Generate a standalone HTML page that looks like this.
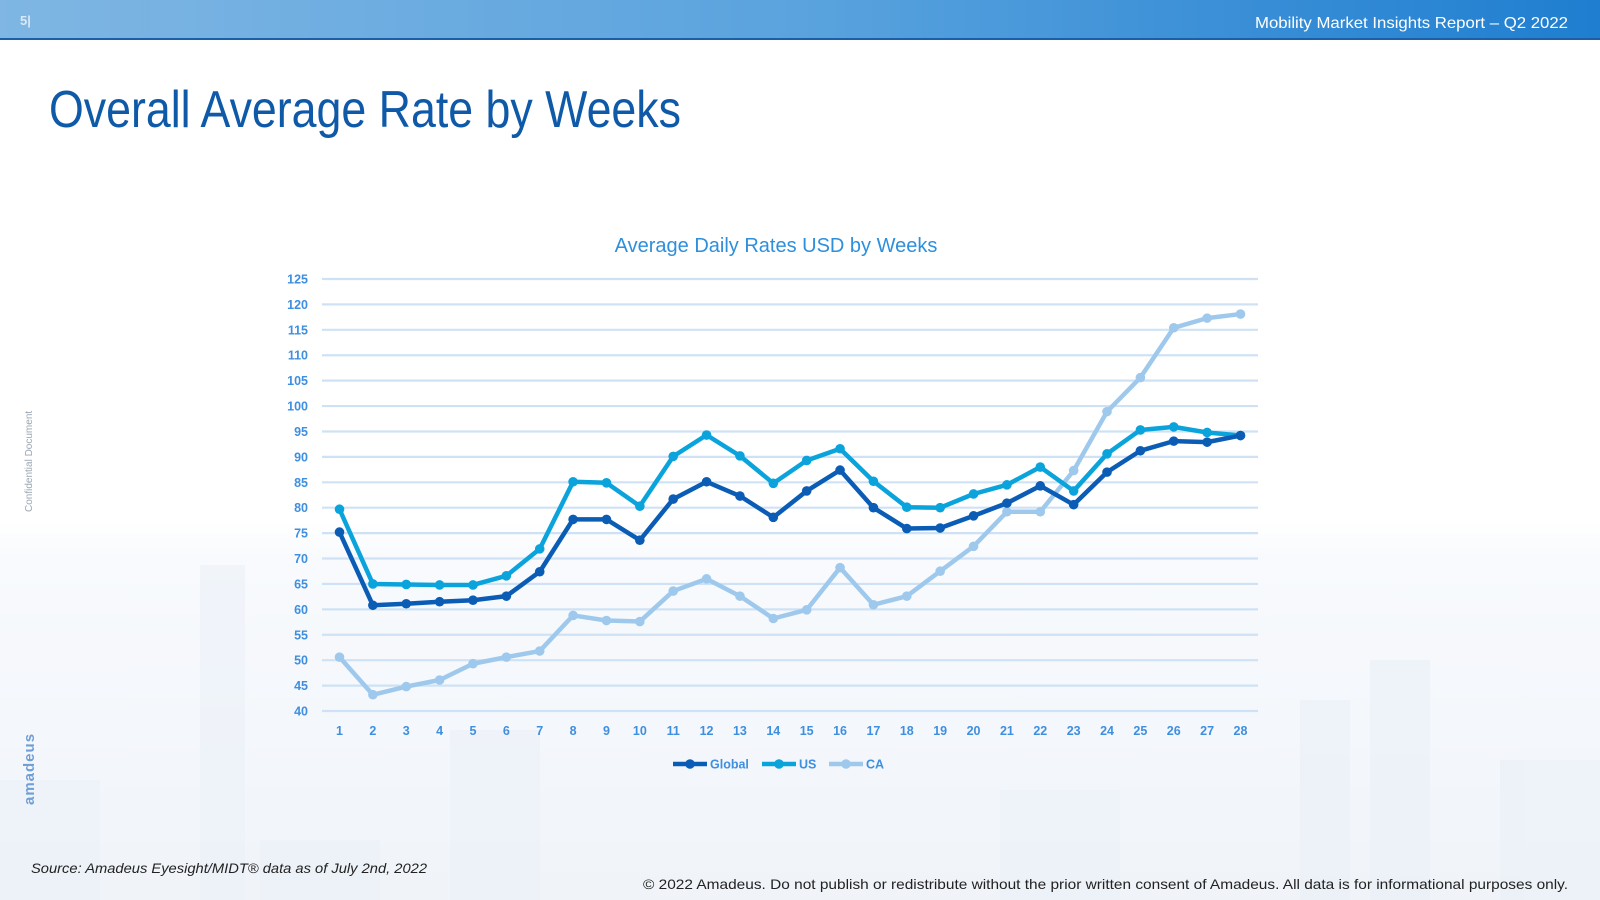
<!DOCTYPE html>
<html><head><meta charset="utf-8"><style>
html,body{margin:0;padding:0;width:1600px;height:900px;overflow:hidden;background:#fff;font-family:"Liberation Sans",sans-serif}
</style></head><body>
<svg id="chart" width="1600" height="900" viewBox="0 0 1600 900" xmlns="http://www.w3.org/2000/svg">
<defs>
<linearGradient id="hdr" x1="0" y1="0" x2="1" y2="0">
<stop offset="0" stop-color="#7fb6e3"/><stop offset="0.5" stop-color="#5aa3de"/><stop offset="1" stop-color="#1f7ed0"/>
</linearGradient>
<linearGradient id="bg" x1="0" y1="0" x2="0" y2="1">
<stop offset="0" stop-color="#ffffff"/><stop offset="0.58" stop-color="#ffffff"/><stop offset="0.62" stop-color="#f8fafd"/><stop offset="1" stop-color="#f0f4f9"/>
</linearGradient>
</defs>
<rect x="0" y="0" width="1600" height="900" fill="url(#bg)"/>
<g fill="#e9f0f8" opacity="0.5">
<rect x="200" y="565" width="45" height="335"/><rect x="450" y="730" width="90" height="170"/><rect x="0" y="780" width="100" height="120"/>
<rect x="1370" y="660" width="60" height="240"/><rect x="1300" y="700" width="50" height="200"/><rect x="1500" y="760" width="100" height="140"/>
<rect x="1000" y="790" width="120" height="110"/><rect x="260" y="840" width="120" height="60"/>
</g>
<rect x="0" y="0" width="1600" height="39" fill="url(#hdr)"/>
<rect x="0" y="38" width="1600" height="2" fill="#1a5fa8"/>
<text x="20" y="25" font-size="13" fill="#d8e9f8" font-weight="bold">5|</text>
<text x="1255" y="28" font-size="16" fill="#ffffff" textLength="313" lengthAdjust="spacingAndGlyphs">Mobility Market Insights Report – Q2 2022</text>
<text x="49" y="127" font-size="52" fill="#0f5aa8" textLength="632" lengthAdjust="spacingAndGlyphs">Overall Average Rate by Weeks</text>
<text x="776" y="252" font-size="20" fill="#2e8fdc" text-anchor="middle">Average Daily Rates USD by Weeks</text>
<text transform="translate(32,512) rotate(-90)" font-size="10" fill="#9aa6b2">Confidential Document</text>
<text transform="translate(34,805) rotate(-90)" font-size="15" fill="#6f9fd6" font-weight="bold" letter-spacing="1">amadeus</text>
<text x="31" y="873" font-size="14" font-style="italic" fill="#222" textLength="396" lengthAdjust="spacingAndGlyphs">Source: Amadeus Eyesight/MIDT® data as of July 2nd, 2022</text>
<text x="643" y="889" font-size="14" fill="#222" textLength="925" lengthAdjust="spacingAndGlyphs">© 2022 Amadeus. Do not publish or redistribute without the prior written consent of Amadeus. All data is for informational purposes only.</text>
<g id="grid"></g><g id="series"></g><g id="legend"></g>
</svg>
<script>
const weeks = [1,2,3,4,5,6,7,8,9,10,11,12,13,14,15,16,17,18,19,20,21,22,23,24,25,26,27,28];
const yTicks = [40,45,50,55,60,65,70,75,80,85,90,95,100,105,110,115,120,125];
const globalVals = [75.2,60.8,61.1,61.5,61.8,62.6,67.4,77.7,77.7,73.6,81.7,85.1,82.3,78.1,83.3,87.4,80.0,75.9,76.0,78.4,80.9,84.3,80.6,87.0,91.2,93.1,92.9,94.2];
const usVals = [79.7,65.0,64.9,64.8,64.8,66.6,71.9,85.1,84.9,80.3,90.1,94.3,90.2,84.8,89.3,91.6,85.2,80.1,80.0,82.7,84.5,88.0,83.3,90.6,95.3,95.9,94.8,94.2];
const caVals = [50.6,43.2,44.8,46.1,49.3,50.6,51.8,58.8,57.8,57.6,63.6,66.0,62.6,58.2,59.9,68.2,60.9,62.6,67.5,72.4,79.2,79.2,87.3,98.9,105.6,115.4,117.3,118.1];
const seriesNames = ["Global","US","CA"];

const NS="http://www.w3.org/2000/svg";
const X0=339.5, X1=1240.5, Y0=711, Y1=279, gL=322, gR=1258;
function xPos(i){return X0+(X1-X0)*i/(weeks.length-1);}
function yPos(v){return Y0-(v-40)/(125-40)*(Y0-Y1);}
function mk(tag,attrs,parent){const e=document.createElementNS(NS,tag);for(const k in attrs)e.setAttribute(k,attrs[k]);parent.appendChild(e);return e;}
const grid=document.getElementById('grid');
yTicks.forEach(t=>{
  const l=mk('line',{x1:gL,x2:gR,y1:yPos(t),y2:yPos(t),stroke:'#cfe2f5','stroke-width':2.2},grid);
  
  
  const tx=mk('text',{x:308,y:yPos(t)+4.5,'font-size':12.5,'font-weight':'bold',fill:'#3f8fe0','text-anchor':'end'},grid);
  tx.textContent=t;
  
  
});
weeks.forEach((w,i)=>{
  const tx=mk('text',{x:xPos(i),y:735,'font-size':12.5,'font-weight':'bold',fill:'#3f8fe0','text-anchor':'middle'},grid);
  tx.textContent=w;
  
  
});
const colors=['#0b5cb5','#0aa3db','#9fc9ec'];
const data=[globalVals,usVals,caVals];
const sg=document.getElementById('series');
[2,1,0].forEach(s=>{
  const g=mk('g',{},sg);
  
  
  const pts=data[s].map((v,i)=>xPos(i)+','+yPos(v)).join(' ');
  const pl=mk('polyline',{points:pts,fill:'none',stroke:colors[s],'stroke-width':4.5,'stroke-linejoin':'round'},g);
  
  
  data[s].forEach((v,i)=>{
    const c=mk('circle',{cx:xPos(i),cy:yPos(v),r:4.8,fill:colors[s]},g);
    
    
  });
});
const lg=document.getElementById('legend');
const lx=[673,762,829];
seriesNames.forEach((n,s)=>{
  const g=mk('g',{},lg);
  
  
  mk('line',{x1:lx[s],x2:lx[s]+34,y1:764,y2:764,stroke:colors[s],'stroke-width':4.5},g);
  mk('circle',{cx:lx[s]+17,cy:764,r:4.8,fill:colors[s]},g);
  const t=mk('text',{x:lx[s]+37,y:768.5,'font-size':12.5,'font-weight':'bold',fill:'#3f8fe0'},g);
  t.textContent=n;
});
</script>
</body></html>
